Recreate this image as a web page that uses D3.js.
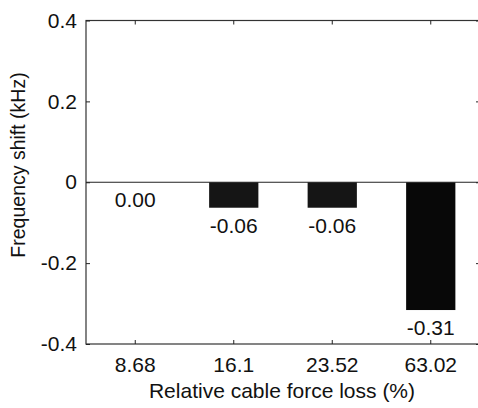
<!DOCTYPE html>
<html>
<head>
<meta charset="utf-8">
<script src="https://cdn.jsdelivr.net/npm/d3@7"></script>
<style>
  body { margin: 0; background: #fff; }
  text { font-family: "Liberation Sans", Arial, sans-serif; fill: #111; }
</style>
</head>
<body>
<svg id="chart" width="478" height="408"></svg>
<script>
// data
const categories = ["8.68", "16.1", "23.52", "63.02"]
const shifts = [0.0, -0.063, -0.063, -0.316]
const labels = ["0.00", "-0.06", "-0.06", "-0.31"]
const yTicks = [-0.4, -0.2, 0, 0.2, 0.4]
const yTickLabels = ["-0.4", "-0.2", "0", "0.2", "0.4"]

const box = { left: 86, right: 480, top: 20.5, bottom: 344 }

const svg = d3.select("#chart")

const x = d3.scaleBand()
    .domain(categories)
    .range([box.left, box.right])
    .paddingInner(0.5)
    .paddingOuter(0.25)

const y = d3.scaleLinear()
    .domain([-0.4, 0.4])
    .range([box.bottom, box.top])

// frame
svg.append("rect")
    .attr("x", box.left)
    .attr("y", box.top)
    .attr("width", box.right - box.left)
    .attr("height", box.bottom - box.top)
    .attr("fill", "none")
    .attr("stroke", "#333")
    .attr("stroke-width", 1.2)

// bars
svg.selectAll(".bar")
    .data(shifts)
    .join("rect")
    .attr("class", "bar")
    .attr("x", (d, i) => x(categories[i]))
    .attr("width", x.bandwidth())
    .attr("y", d => y(Math.max(0, d)))
    .attr("height", d => Math.abs(y(d) - y(0)))
    .attr("fill", (d, i) => i == shifts.length - 1 ? "#080808" : "#151515")

// zero line
svg.append("line")
    .attr("x1", box.left).attr("x2", box.right)
    .attr("y1", y(0)).attr("y2", y(0))
    .attr("stroke", "#222")
    .attr("stroke-width", 1.2)

// value labels under the bars
svg.selectAll(".val")
    .data(shifts)
    .join("text")
    .attr("class", "val")
    .attr("x", (d, i) => x(categories[i]) + x.bandwidth() / 2)
    .attr("y", d => y(Math.min(0, d)) + 25)
    .attr("text-anchor", "middle")
    .attr("font-size", 21)
    .text((d, i) => labels[i])

// axes, ticks pointing inward
const axLeft = d3.axisLeft(y).tickValues(yTicks).tickSize(-4).tickPadding(9)
    .tickFormat((d, i) => yTickLabels[i])
svg.append("g").attr("transform", `translate(${box.left},0)`).call(axLeft)

const axRight = d3.axisRight(y).tickValues(yTicks).tickSize(-4).tickFormat("")
svg.append("g").attr("transform", `translate(${box.right},0)`).call(axRight)

const axBottom = d3.axisBottom(x).tickSize(-4).tickPadding(13)
svg.append("g").attr("transform", `translate(0,${box.bottom})`).call(axBottom)

const axTop = d3.axisTop(x).tickSize(-4).tickFormat("")
svg.append("g").attr("transform", `translate(0,${box.top})`).call(axTop)

svg.selectAll(".domain").remove()
svg.selectAll(".tick line").attr("stroke", "#222")
svg.selectAll(".tick text").attr("font-size", 21).attr("fill", "#111")

// axis titles
svg.append("text")
    .attr("x", 282)
    .attr("y", 398)
    .attr("text-anchor", "middle")
    .attr("font-size", 21)
    .text("Relative cable force loss (%)")

svg.append("text")
    .attr("transform", "translate(25,165) rotate(-90)")
    .attr("text-anchor", "middle")
    .attr("font-size", 19.5)
    .text("Frequency shift (kHz)")
</script>
</body>
</html>
